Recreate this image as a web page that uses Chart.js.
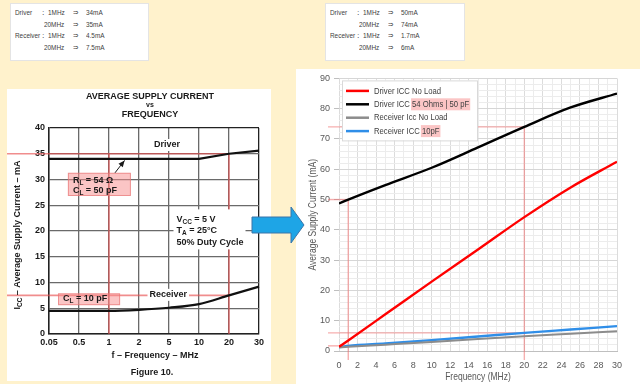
<!DOCTYPE html>
<html>
<head>
<meta charset="utf-8">
<title>Average Supply Current vs Frequency</title>
<script src="https://cdn.jsdelivr.net/npm/chart.js"></script>
<style>
  body { margin: 0; width: 640px; height: 384px; background: #fff2cc; position: relative; overflow: hidden;
         font-family: 'Liberation Sans', Arial, sans-serif; }
  .note { position: absolute; background: #fff; border: 1px solid #e4e4e4; font-size: 8px; color: #404040; }
  .note span { position: absolute; white-space: nowrap; line-height: 10px; transform: scaleX(0.8); transform-origin: 0 0; }
  #leftPanel { position: absolute; left: 7px; top: 89px; width: 264px; height: 292px; background: #fff; }
  #rightPanel { position: absolute; left: 296px; top: 69px; width: 344px; height: 315px; background: #fff; }
  #arrow { position: absolute; left: 0; top: 0; }
  canvas { display: block; }
</style>
</head>
<body>
  <div class="note" id="noteLeft" style="left:10px; top:3px; width:137px; height:56px;"></div>
  <div class="note" id="noteRight" style="left:325px; top:3px; width:138px; height:56px;"></div>

  <div id="leftPanel"><canvas id="leftChart" width="264" height="292"></canvas></div>
  <div id="rightPanel"><canvas id="rightChart" width="344" height="315"></canvas></div>

  <svg id="arrow" width="640" height="384">
    <polygon points="252,217 291,217 291,207 304,225 291,243 291,233 252,233" fill="#1ea5e6" stroke="#3a74a8" stroke-width="1"/>
  </svg>

<script>
  // datasheet readings (left figure, log-ish category axis)
  const dsFreqLabels = ['0.05', '0.5', '1', '2', '5', '10', '20', '30'];
  const dsDriver = [34, 34, 34, 34, 34, 34, 35, 35.6];
  const dsReceiver = [4.5, 4.5, 4.5, 4.7, 5.1, 5.8, 7.5, 9.2];

  // measured curves (right chart)
  const freqMHz = [0, 1, 5, 10, 15, 20, 25, 30];
  const driverNoLoad = [1.4, 3.5, 12.1, 22.9, 33.5, 44.2, 54, 62.5];
  const driverLoaded = [48.7, 50, 54.8, 60.5, 67.2, 74, 80.4, 85];
  const receiverNoLoad = [1.2, 1.4, 2.1, 3.0, 4.0, 4.9, 5.7, 6.5];
  const receiverLoaded = [1.2, 1.7, 2.5, 3.6, 4.8, 6.0, 7.1, 8.2];

  const seriesLabels = ['Driver ICC No Load', 'Driver ICC 54 Ohms | 50 pF', 'Receiver Icc No Load', 'Receiver ICC 10pF'];
  const seriesHighlights = ['', '54 Ohms | 50 pF', '', '10pF'];
  const seriesColors = ['#ff0000', '#000000', '#8c8c8c', '#2f8ee8'];

  // note boxes: [name, freq, value]
  const dsNotes = [['Driver', '1MHz', '34mA'], ['', '20MHz', '35mA'], ['Receiver', '1MHz', '4.5mA'], ['', '20MHz', '7.5mA']];
  const measNotes = [['Driver', '1MHz', '50mA'], ['', '20MHz', '74mA'], ['Receiver', '1MHz', '1.7mA'], ['', '20MHz', '6mA']];

  const ARIAL = "'Liberation Sans', Arial, sans-serif";
  const NARROW = 0.81; // horizontal squeeze to imitate the narrow office font

  function fillNote(el, rows) {
    rows.forEach((r, i) => {
      const top = 4 + i * 11.5;
      const add = (txt, left) => {
        const s = document.createElement('span');
        s.textContent = txt; s.style.left = left + 'px'; s.style.top = top + 'px';
        el.appendChild(s);
      };
      if (r[0]) { add(r[0], 4); add('\uFF1A', 29); }
      add(r[1], r[1].length > 4 ? 33 : 37);
      add('\u21D2', 62);
      add(r[2], 75);
    });
  }
  fillNote(document.getElementById('noteLeft'), dsNotes);
  fillNote(document.getElementById('noteRight'), measNotes);

  // draws text made of [string, isSubscript] parts
  function drawParts(ctx, parts, x, y, size) {
    let cx = x;
    parts.forEach(([t, sub]) => {
      ctx.font = 'bold ' + (sub ? size * 0.72 : size) + 'px ' + ARIAL;
      ctx.fillText(t, cx, sub ? y + size * 0.3 : y);
      cx += ctx.measureText(t).width;
    });
    return cx - x;
  }

  function narrowText(ctx, txt, x, y) {
    ctx.save();
    ctx.translate(x, y);
    ctx.scale(NARROW, 1);
    ctx.fillText(txt, 0, 0);
    ctx.restore();
  }

  const leftExtras = {
    id: 'leftExtras',
    beforeDatasetsDraw(chart) {
      const { ctx, scales: { x, y } } = chart;
      ctx.save();
      ctx.strokeStyle = 'rgba(232,80,80,0.65)';
      ctx.lineWidth = 1.6;
      [dsDriver[6], dsReceiver[6]].forEach(v => {
        ctx.beginPath();
        ctx.moveTo(0, y.getPixelForValue(v));
        ctx.lineTo(x.getPixelForValue(6), y.getPixelForValue(v));
        ctx.stroke();
      });
      [2, 6].forEach(i => {
        ctx.beginPath();
        ctx.moveTo(x.getPixelForValue(i), y.getPixelForValue(0));
        ctx.lineTo(x.getPixelForValue(i), y.getPixelForValue(dsDriver[6]));
        ctx.stroke();
      });
      ctx.restore();
    },
    afterDraw(chart) {
      const { ctx, chartArea: a, scales: { x, y } } = chart;
      ctx.save();
      ctx.fillStyle = '#1a1a1a';
      ctx.textAlign = 'center';
      ctx.textBaseline = 'middle';
      ctx.font = 'bold 9px ' + ARIAL;
      ctx.fillText('AVERAGE SUPPLY CURRENT', 143, 8);
      ctx.font = 'bold 7px ' + ARIAL;
      ctx.fillText('vs', 143, 16.5);
      ctx.font = 'bold 9px ' + ARIAL;
      ctx.fillText('FREQUENCY', 143, 25.5);
      ctx.fillText('f \u2013 Frequency \u2013 MHz', 148, 267);
      ctx.fillText('Figure 10.', 145, 284);

      // y title with subscript
      ctx.save();
      ctx.translate(11, (a.top + a.bottom) / 2 + 4);
      ctx.rotate(-Math.PI / 2);
      ctx.textAlign = 'left';
      const parts = [['I', false], ['CC', true], [' \u2013 Average Supply Current \u2013 mA', false]];
      ctx.globalAlpha = 0;
      const w = drawParts(ctx, parts, 0, 0, 9);
      ctx.globalAlpha = 1;
      drawParts(ctx, parts, -w / 2, 0, 9);
      ctx.restore();

      ctx.textAlign = 'left';
      // white-backed labels
      const label = (parts, lx, ly, bg) => {
        ctx.globalAlpha = 0;
        const w = drawParts(ctx, parts, 0, 0, 9);
        ctx.globalAlpha = 1;
        if (bg) { ctx.fillStyle = '#fff'; ctx.fillRect(lx - 2, ly - 6, w + 4, 12); }
        ctx.fillStyle = '#1a1a1a';
        drawParts(ctx, parts, lx, ly, 9);
      };
      label([['Driver', false]], x.getPixelForValue(3.5), y.getPixelForValue(36.7), true);
      label([['Receiver', false]], x.getPixelForValue(3.35), y.getPixelForValue(7.6), true);

      ctx.fillStyle = '#fff';
      ctx.fillRect(x.getPixelForValue(4.15), y.getPixelForValue(24.2), 72, 40);
      ctx.fillStyle = '#1a1a1a';
      const vx = x.getPixelForValue(4.25);
      drawParts(ctx, [['V', false], ['CC', true], [' = 5 V', false]], vx, y.getPixelForValue(22.3), 9);
      drawParts(ctx, [['T', false], ['A', true], [' = 25\u00B0C', false]], vx, y.getPixelForValue(20.0), 9);
      drawParts(ctx, [['50% Duty Cycle', false]], vx, y.getPixelForValue(17.8), 9);

      // pink boxes
      const pink = (x0, x1, v0, v1) => {
        const l = x.getPixelForValue(x0), r = x.getPixelForValue(x1);
        const t = y.getPixelForValue(v0), b = y.getPixelForValue(v1);
        ctx.fillStyle = 'rgba(248,140,140,0.5)';
        ctx.fillRect(l, t, r - l, b - t);
        ctx.strokeStyle = 'rgba(230,110,110,0.6)';
        ctx.lineWidth = 1;
        ctx.strokeRect(l + 0.5, t + 0.5, r - l - 1, b - t - 1);
        return l;
      };
      let bl = pink(0.63, 2.73, 31.3, 26.8);
      ctx.fillStyle = '#1a1a1a';
      drawParts(ctx, [['R', false], ['L', true], [' = 54 \u03A9', false]], bl + 5, y.getPixelForValue(29.8), 9);
      drawParts(ctx, [['C', false], ['L', true], [' = 50 pF', false]], bl + 5, y.getPixelForValue(27.8), 9);
      bl = pink(0.3, 2.37, 7.9, 5.6);
      ctx.fillStyle = '#1a1a1a';
      drawParts(ctx, [['C', false], ['L', true], [' = 10 pF', false]], bl + 5, y.getPixelForValue(6.9), 9);

      // pointer to the driver curve
      const tx = x.getPixelForValue(2.52), ty = y.getPixelForValue(dsDriver[2]) + 1.5;
      const sx = x.getPixelForValue(2.2), sy = y.getPixelForValue(31.3);
      ctx.strokeStyle = '#1a1a1a';
      ctx.lineWidth = 1;
      ctx.beginPath(); ctx.moveTo(sx, sy); ctx.lineTo(tx, ty); ctx.stroke();
      const ang = Math.atan2(ty - sy, tx - sx);
      ctx.fillStyle = '#1a1a1a';
      ctx.beginPath();
      ctx.moveTo(tx, ty);
      ctx.lineTo(tx - 7 * Math.cos(ang - 0.4), ty - 7 * Math.sin(ang - 0.4));
      ctx.lineTo(tx - 7 * Math.cos(ang + 0.4), ty - 7 * Math.sin(ang + 0.4));
      ctx.closePath(); ctx.fill();
      ctx.restore();
    }
  };

  const edge = (isEdge) => isEdge ? '#222' : '#6a6a6a';
  const dsTicks = { color: '#1a1a1a', font: { family: ARIAL, weight: 'bold', size: 9 } };

  new Chart(document.getElementById('leftChart'), {
    type: 'line',
    data: {
      labels: dsFreqLabels,
      datasets: [
        { label: 'Driver', data: dsDriver, borderColor: '#111', borderWidth: 2.2, pointRadius: 0, tension: 0 },
        { label: 'Receiver', data: dsReceiver, borderColor: '#111', borderWidth: 2.2, pointRadius: 0, cubicInterpolationMode: 'monotone' }
      ]
    },
    options: {
      responsive: false,
      animation: false,
      layout: { padding: { top: 39, right: 12, left: 0, bottom: 0 } },
      plugins: { legend: { display: false }, tooltip: { enabled: false } },
      scales: {
        x: {
          offset: false,
          grid: { color: c => edge(c.index === dsFreqLabels.length - 1), lineWidth: 1.3, drawTicks: false },
          border: { color: '#222', width: 1.5 },
          ticks: { ...dsTicks, padding: 3, maxRotation: 0, autoSkip: false },
          afterFit(s) { s.height = 47; }
        },
        y: {
          min: 0, max: 40,
          grid: { color: c => edge(c.tick.value === 40), lineWidth: 1.3, drawTicks: false },
          border: { color: '#222', width: 1.5 },
          ticks: { ...dsTicks, stepSize: 5, padding: 4 },
          afterFit(s) { s.width = 42; }
        }
      }
    },
    plugins: [leftExtras]
  });

  const rightExtras = {
    id: 'rightExtras',
    beforeDatasetsDraw(chart) {
      const { ctx, chartArea: a, scales: { x, y } } = chart;
      ctx.save();
      ctx.strokeStyle = 'rgba(238,110,110,0.55)';
      ctx.lineWidth = 1.4;
      const marks = [[20, driverLoaded[5]], [1, driverLoaded[1]], [20, receiverLoaded[5]], [1, receiverLoaded[1]]];
      marks.forEach(([f, v]) => {
        ctx.beginPath();
        ctx.moveTo(a.left - 11, y.getPixelForValue(v));
        ctx.lineTo(x.getPixelForValue(f), y.getPixelForValue(v));
        ctx.stroke();
      });
      [[1, driverLoaded[1]], [20, driverLoaded[5]]].forEach(([f, v]) => {
        ctx.beginPath();
        ctx.moveTo(x.getPixelForValue(f), a.bottom + 9);
        ctx.lineTo(x.getPixelForValue(f), y.getPixelForValue(v));
        ctx.stroke();
      });
      ctx.restore();
    },
    afterDraw(chart) {
      const { ctx, chartArea: a } = chart;
      ctx.save();
      // legend inside plot
      const lx = a.left + 3, ly = a.top + 2;
      ctx.fillStyle = '#fff';
      ctx.fillRect(lx, ly, 135, 60);
      ctx.strokeStyle = '#d9d9d9';
      ctx.lineWidth = 1;
      ctx.strokeRect(lx + 0.5, ly + 0.5, 135, 60);
      ctx.font = '9.5px ' + ARIAL;
      ctx.textBaseline = 'middle';
      chart.data.datasets.forEach((ds, i) => {
        const ry = ly + 10.5 + i * 13.4;
        ctx.strokeStyle = ds.borderColor;
        ctx.lineWidth = 2.5;
        ctx.beginPath(); ctx.moveTo(lx + 4, ry); ctx.lineTo(lx + 27, ry); ctx.stroke();
        const tx = lx + 32;
        const hl = seriesHighlights[i];
        if (hl) {
          const pre = ds.label.slice(0, ds.label.indexOf(hl));
          const px = tx + ctx.measureText(pre).width * NARROW;
          ctx.fillStyle = 'rgba(248,150,150,0.55)';
          ctx.fillRect(px - 1, ry - 6, ctx.measureText(hl).width * NARROW + 2, 12);
        }
        ctx.fillStyle = '#404040';
        narrowText(ctx, ds.label, tx, ry);
      });
      // axis titles
      ctx.fillStyle = '#595959';
      ctx.font = '10.5px ' + ARIAL;
      ctx.textAlign = 'center';
      narrowText(ctx, 'Frequency (MHz)', (a.left + a.right) / 2, a.bottom + 26);
      ctx.translate(17, (a.top + a.bottom) / 2);
      ctx.rotate(-Math.PI / 2);
      narrowText(ctx, 'Average Supply Current (mA)', 0, 0);
      ctx.restore();
    }
  };

  const measSeries = [driverNoLoad, driverLoaded, receiverNoLoad, receiverLoaded];
  const measTicks = { color: '#595959', font: { family: ARIAL, size: 9 } };

  new Chart(document.getElementById('rightChart'), {
    type: 'line',
    data: {
      datasets: measSeries.map((vals, i) => ({
        label: seriesLabels[i],
        data: vals.map((v, k) => ({ x: freqMHz[k], y: v })),
        borderColor: seriesColors[i],
        borderWidth: i === 2 ? 2 : 2.4,
        pointRadius: 0,
        cubicInterpolationMode: 'monotone'
      }))
    },
    options: {
      responsive: false,
      animation: false,
      layout: { padding: { top: 6, right: 23, left: 0, bottom: 0 } },
      plugins: { legend: { display: false }, tooltip: { enabled: false } },
      scales: {
        x: {
          type: 'linear', min: 0, max: 30,
          grid: { color: c => c.tick.value % 2 === 0 ? '#dcdcdc' : '#ececec', drawTicks: false },
          border: { color: '#bfbfbf' },
          ticks: { ...measTicks, stepSize: 1, autoSkip: false, maxRotation: 0, padding: 9,
                   callback: v => v % 2 === 0 ? v : '' },
          afterFit(s) { s.height = 33; }
        },
        y: {
          min: 0, max: 90,
          grid: { color: c => c.tick.value % 10 === 0 ? '#d6d6d6' : '#ececec', tickLength: 5,
                  tickColor: c => c.tick.value % 10 === 0 ? '#bfbfbf' : 'rgba(0,0,0,0)' },
          border: { display: false },
          ticks: { ...measTicks, stepSize: 2, autoSkip: false, padding: 4,
                   callback: v => v % 10 === 0 ? v : '' },
          afterFit(s) { s.width = 43; }
        }
      }
    },
    plugins: [rightExtras]
  });
</script>
</body>
</html>
